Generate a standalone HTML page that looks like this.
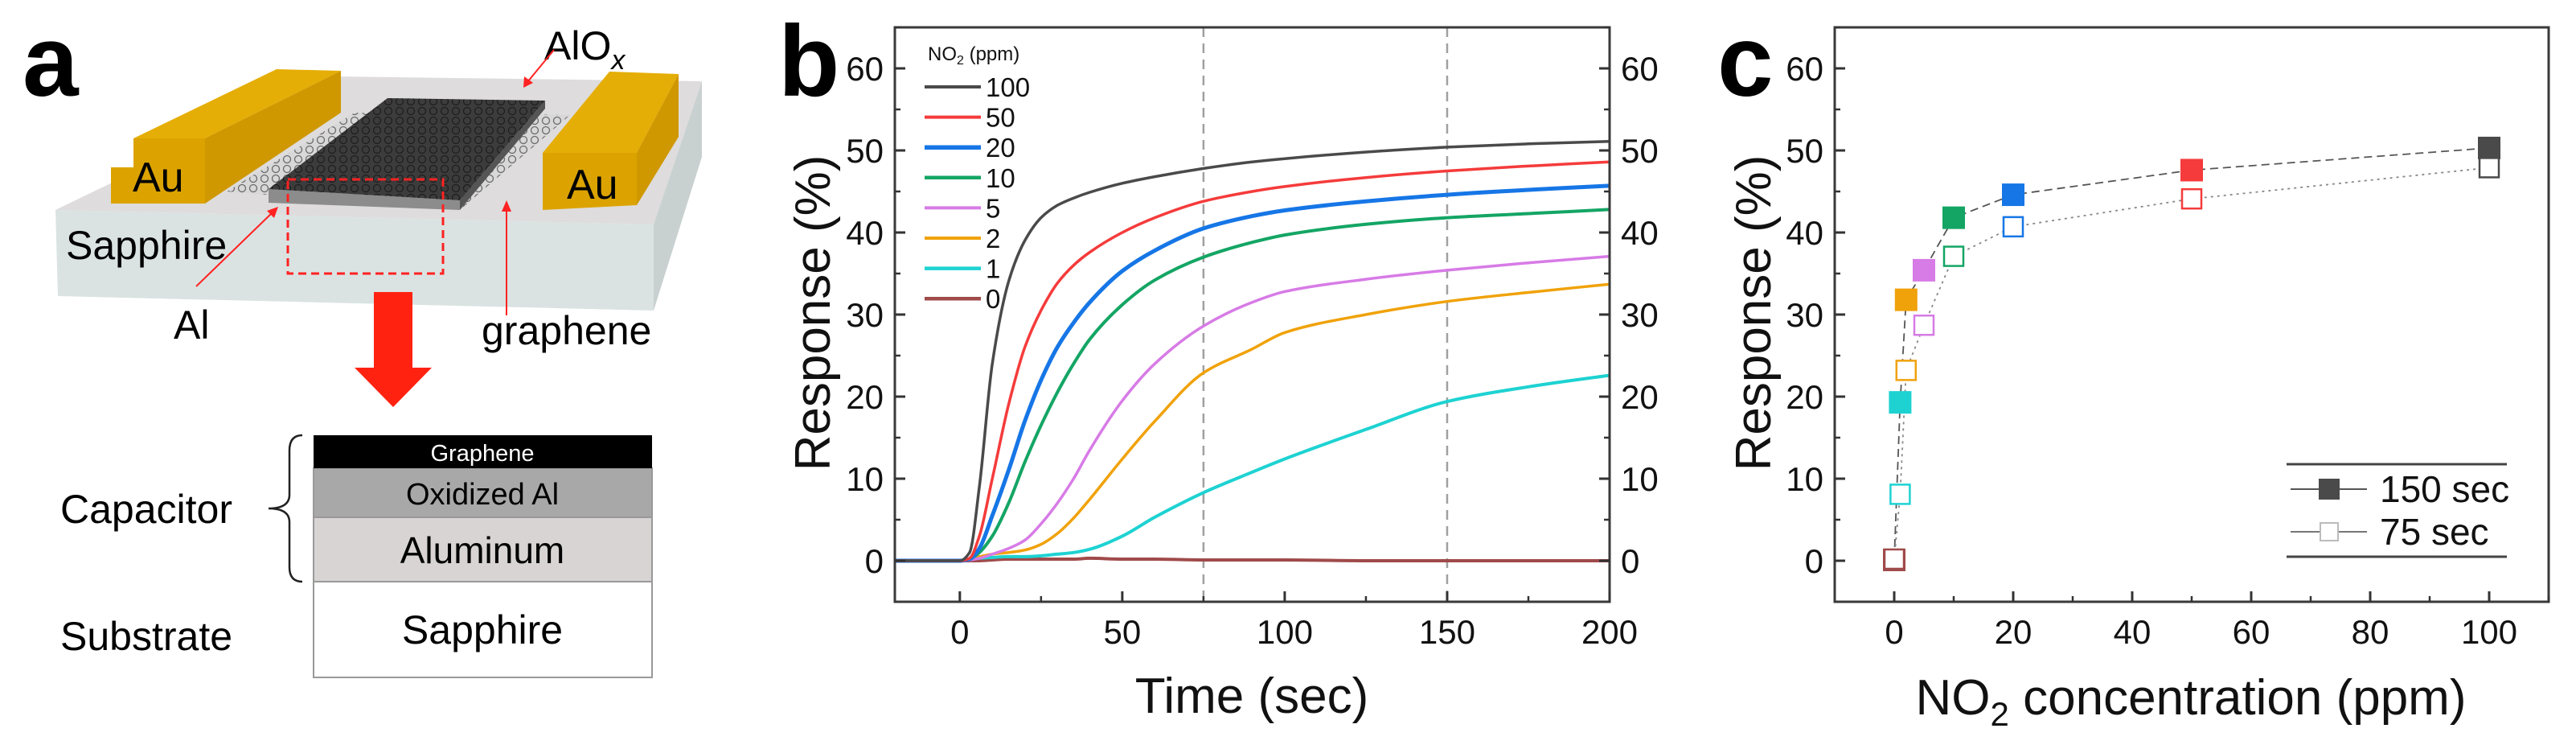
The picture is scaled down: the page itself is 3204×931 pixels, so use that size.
<!DOCTYPE html>
<html><head><meta charset="utf-8">
<style>
html,body{margin:0;padding:0;background:#fff;}
svg{display:block;font-family:"Liberation Sans",Arial,sans-serif;}
</style></head>
<body>
<svg id="fig" width="3204" height="931" viewBox="0 0 3204 931" xmlns="http://www.w3.org/2000/svg">
<defs>
 <pattern id="hexl" width="14" height="12" patternUnits="userSpaceOnUse">
  <rect width="14" height="12" fill="#d8d8d8"/>
  <circle cx="7" cy="6" r="4.5" fill="none" stroke="#6a6a6a" stroke-width="1.3"/>
 </pattern>
 <pattern id="hexd" width="14" height="12" patternUnits="userSpaceOnUse">
  <rect width="14" height="12" fill="#3c3c3c"/>
  <circle cx="7" cy="6" r="4.5" fill="none" stroke="#1e1e1e" stroke-width="1.3"/>
 </pattern>
</defs>

<!-- ================= Panel a ================= -->
<g>
 <text x="28" y="119" font-size="125" font-weight="bold">a</text>
 <polygon points="69,261 813,279 873,101 413,95" fill="#dedcdc"/>
 <polygon points="69,261 813,279 813,386 72,368" fill="#dae3e2"/>
 <polygon points="813,279 873,101 873,195 813,386" fill="#c9d1d0"/>
 <polygon points="282,238 441,140 709,143 572,261" fill="url(#hexl)"/>
 <polygon points="334,235 572,249 572,261 334,252" fill="#8c8c8c"/>
 <polygon points="572,249 678,125 678,135 572,261" fill="#555"/>
 <polygon points="334,235 482,122 678,125 572,249" fill="url(#hexd)"/>
 <polygon points="166,172 344,86 424,88 255,172" fill="#e5ae06"/>
 <polygon points="255,172 424,88 424,140 255,253" fill="#cf9800"/>
 <polygon points="138,208 166,208 166,172 255,172 255,253 138,253" fill="#dca300"/>
 <text x="165" y="238" font-size="52">Au</text>
 <polygon points="758,89 844,92 792,190 675,190" fill="#e5ae06"/>
 <polygon points="792,190 844,92 844,170 792,255" fill="#cf9800"/>
 <polygon points="675,190 792,190 792,255 675,261" fill="#dca300"/>
 <text x="705" y="247" font-size="52">Au</text>
 <text x="82" y="322" font-size="50">Sapphire</text>
 <rect x="358" y="223" width="193" height="117" fill="none" stroke="#f22" stroke-width="3" stroke-dasharray="10,6"/>
 <text x="677" y="74" font-size="50">AlO<tspan font-size="34" font-style="italic" dy="12">x</tspan></text>
 <line x1="689" y1="62" x2="656" y2="102" stroke="#f22" stroke-width="2"/>
 <polygon points="651,109 652,95 663,103" fill="#f22"/>
 <text x="216" y="421" font-size="50">Al</text>
 <line x1="244" y1="356" x2="340" y2="263" stroke="#f22" stroke-width="2"/>
 <polygon points="346,257 341,271 332,262" fill="#f22"/>
 <text x="599" y="428" font-size="50">graphene</text>
 <line x1="630" y1="392" x2="630" y2="258" stroke="#f22" stroke-width="2"/>
 <polygon points="630,249 624,263 636,263" fill="#f22"/>
 <rect x="465" y="363" width="48" height="95" fill="#f21"/>
 <polygon points="441,457 537,457 489,506" fill="#f21"/>
 <rect x="390" y="723" width="421" height="119" fill="#fff" stroke="#999" stroke-width="2"/>
 <rect x="390" y="643" width="421" height="80" fill="#d8d4d4" stroke="#999" stroke-width="2"/>
 <rect x="390" y="582" width="421" height="61" fill="#a8a8a8" stroke="#999" stroke-width="2"/>
 <rect x="390" y="541" width="421" height="41" fill="#000"/>
 <text x="600" y="573" font-size="29" fill="#fff" text-anchor="middle">Graphene</text>
 <text x="600" y="627" font-size="38" text-anchor="middle">Oxidized Al</text>
 <text x="600" y="700" font-size="46" text-anchor="middle">Aluminum</text>
 <text x="600" y="800" font-size="50" text-anchor="middle">Sapphire</text>
 <path d="M376,541 Q360,541 360,560 L360,615 Q360,632 334,632 Q360,632 360,649 L360,705 Q360,723 376,723" fill="none" stroke="#222" stroke-width="2.5"/>
 <text x="75" y="650" font-size="50">Capacitor</text>
 <text x="75" y="808" font-size="50">Substrate</text>
</g>

<g id="pb">
 <text x="968" y="119" font-size="125" font-weight="bold">b</text>
</g>
<g id="pc">
 <text x="2136" y="119" font-size="125" font-weight="bold">c</text>
</g>
</svg>

<script>
// ---------- Panel b data ----------
const timeSec = [-20,0,3,6,10,15,20,25,30,35,40,50,60,75,90,100,125,150,175,200];
const seriesLabels = ["100","50","20","10","5","2","1","0"];
const resp100 = [0,0,1,9,24,34,39,41.8,43.3,44.2,44.9,46,46.8,47.8,48.6,49,49.8,50.4,50.8,51.1];
const resp50  = [0,0,0.3,3,10,19,26,30.5,33.8,36,37.6,40,41.8,43.8,45,45.6,46.7,47.5,48.1,48.6];
const resp20  = [0,0,0.2,1.5,5.5,11,17,22,26,29,31.5,35.3,37.8,40.5,42,42.7,43.8,44.6,45.2,45.7];
const resp10  = [0,0,0.2,1,3,7,12,16.5,20.5,24,27,31.2,34.2,37,38.8,39.7,41,41.8,42.3,42.8];
const resp5   = [0,0,0.1,0.3,0.8,1.5,2.5,4.5,7,10,13.5,19.5,24,28.6,31.5,32.8,34.3,35.4,36.3,37.1];
const resp2   = [0,0,0.2,0.5,0.8,1,1.3,2,3.3,5.2,7.5,12.4,17,22.9,25.8,27.8,30,31.6,32.7,33.7];
const resp1   = [0,0,0.2,0.3,0.4,0.5,0.5,0.6,0.8,1,1.4,3,5.3,8.3,10.8,12.4,16,19.4,21.2,22.6];
const resp0   = [0,0,0,0,0.1,0.2,0.2,0.2,0.2,0.2,0.3,0.2,0.2,0.1,0.1,0.1,0,0,0,0];
const bXTicks = [0,50,100,150,200];
const bYTicks = [0,10,20,30,40,50,60];
const markerTimes = [75,150];

// ---------- Panel c data ----------
const concPpm = [0,1,2,5,10,20,50,100];
const resp150 = [0.1,19.3,31.8,35.4,41.8,44.6,47.6,50.3];
const resp75  = [0.2,8.1,23.2,28.7,37.1,40.7,44.1,47.9];
const cXTicks = [0,20,40,60,80,100];
const cYTicks = [0,10,20,30,40,50,60];

const colors = ["#4a4a4a","#f53b3b","#1676e6","#14a564","#d77be6","#f0a20a","#1ed2d2","#a04a4a"];
const widths = [3.5,3.5,5,4,3.5,3.5,4,4];
const NS = "http://www.w3.org/2000/svg";
function mk(parent, tag, attrs, text){
  const e = document.createElementNS(NS, tag);
  for (const k in attrs) e.setAttribute(k, attrs[k]);
  if (text !== undefined) e.textContent = text;
  parent.appendChild(e);
  return e;
}
// monotone cubic (Fritsch-Carlson) path
function smoothPath(pts){
  const n = pts.length;
  const dx=[], dy=[], m=[];
  for (let i=0;i<n-1;i++){ dx.push(pts[i+1][0]-pts[i][0]); dy.push(pts[i+1][1]-pts[i][1]); m.push(dy[i]/dx[i]); }
  const t=[m[0]];
  for (let i=1;i<n-1;i++){
    if (m[i-1]*m[i]<=0) t.push(0);
    else { const w1=2*dx[i]+dx[i-1], w2=dx[i]+2*dx[i-1]; t.push((w1+w2)/(w1/m[i-1]+w2/m[i])); }
  }
  t.push(m[n-2]);
  let d = "M"+pts[0][0].toFixed(1)+","+pts[0][1].toFixed(1);
  for (let i=0;i<n-1;i++){
    const h=dx[i]/3;
    d += " C"+(pts[i][0]+h).toFixed(1)+","+(pts[i][1]+t[i]*h).toFixed(1)+" "+(pts[i+1][0]-h).toFixed(1)+","+(pts[i+1][1]-t[i+1]*h).toFixed(1)+" "+pts[i+1][0].toFixed(1)+","+pts[i+1][1].toFixed(1);
  }
  return d;
}

// ===== Panel b =====
(function(){
  const g = document.getElementById("pb");
  const L=1113,R=2002,T=34,B=748;
  const xmin=-20,xmax=200,ymin=-5,ymax=65;
  const xs = v => L+(v-xmin)/(xmax-xmin)*(R-L);
  const ys = v => B-(v-ymin)/(ymax-ymin)*(B-T);
  markerTimes.forEach(t=>{
    const l = mk(g,"line",{x1:xs(t),x2:xs(t),y1:T,y2:B,stroke:"#a0a0a0","stroke-width":2.5,"stroke-dasharray":"12,8"});
    
    
  });
  const all = [resp100,resp50,resp20,resp10,resp5,resp2,resp1,resp0];
  for (let s=all.length-1;s>=0;s--){
    const pts = timeSec.map((t,i)=>[xs(t),ys(all[s][i])]);
    const p = mk(g,"path",{d:smoothPath(pts),fill:"none",stroke:colors[s],"stroke-width":widths[s],"stroke-linejoin":"round"});
    
    
  }
  const fr = mk(g,"rect",{x:L,y:T,width:R-L,height:B-T,fill:"none",stroke:"#3a3a3a","stroke-width":3});
  
  
  bXTicks.forEach(v=>{
    const x=xs(v);
    const t = mk(g,"line",{x1:x,x2:x,y1:B,y2:B-13,stroke:"#333","stroke-width":3});
    
    
    const lb = mk(g,"text",{x:x,y:B+52,"font-size":42,"text-anchor":"middle",fill:"#111"},String(v));
    
    
    if (v+25<=xmax){
      const m = mk(g,"line",{x1:xs(v+25),x2:xs(v+25),y1:B,y2:B-7,stroke:"#333","stroke-width":2.5});
      
      
    }
  });
  bYTicks.forEach(v=>{
    const y=ys(v);
    [[L,L+13],[R,R-13]].forEach(a=>{
      const t = mk(g,"line",{x1:a[0],x2:a[1],y1:y,y2:y,stroke:"#333","stroke-width":3});
      
      
    });
    [[L,L+7],[R,R-7]].forEach(a=>{
      const m = mk(g,"line",{x1:a[0],x2:a[1],y1:ys(v+5),y2:ys(v+5),stroke:"#333","stroke-width":2.5});
      
      
    });
    const lb = mk(g,"text",{x:L-14,y:y+15,"font-size":42,"text-anchor":"end",fill:"#111"},String(v));
    
    
    const rb = mk(g,"text",{x:R+14,y:y+15,"font-size":42,"text-anchor":"start",fill:"#111"},String(v));
    
    
  });
  const xt = mk(g,"text",{x:1557,y:886,"font-size":62,"text-anchor":"middle",fill:"#111"},"Time (sec)");
  
  
  const yt = mk(g,"text",{x:0,y:0,"font-size":62,"text-anchor":"middle",fill:"#111",transform:"translate(1032,389) rotate(-90)"},"Response (%)");
  
  
  const lt = mk(g,"text",{x:1154,y:75,"font-size":24,fill:"#111"},"");
  
  
  lt.innerHTML = 'NO<tspan font-size="16" dy="5">2</tspan><tspan dy="-5"> (ppm)</tspan>';
  seriesLabels.forEach((lab,i)=>{
    const y = 108+i*37.6;
    const ln = mk(g,"line",{x1:1150,x2:1220,y1:y,y2:y,stroke:colors[i],"stroke-width":widths[i]+0.5});
    
    
    const tx = mk(g,"text",{x:1226,y:y+12,"font-size":33,fill:"#111"},lab);
    
    
  });
})();

// ===== Panel c =====
(function(){
  const g = document.getElementById("pc");
  const L=2282,R=3170,T=34,B=748;
  const xmin=-10,xmax=110,ymin=-5,ymax=65;
  const xs = v => L+(v-xmin)/(xmax-xmin)*(R-L);
  const ys = v => B-(v-ymin)/(ymax-ymin)*(B-T);
  const l150 = mk(g,"polyline",{points:concPpm.map((c,i)=>xs(c)+","+ys(resp150[i])).join(" "),fill:"none",stroke:"#555","stroke-width":1.8,"stroke-dasharray":"10,6"});
  
  
  const l75 = mk(g,"polyline",{points:concPpm.map((c,i)=>xs(c)+","+ys(resp75[i])).join(" "),fill:"none",stroke:"#888","stroke-width":1.8,"stroke-dasharray":"3,5"});
  
  
  const ci = [7,6,5,4,3,2,1,0];
  concPpm.forEach((c,i)=>{
    const m1 = mk(g,"rect",{x:xs(c)-14,y:ys(resp150[i])-14,width:28,height:28,fill:colors[ci[i]]});
    
    
  });
  concPpm.forEach((c,i)=>{
    const m2 = mk(g,"rect",{x:xs(c)-12,y:ys(resp75[i])-12,width:24,height:24,fill:"#fff",stroke:colors[ci[i]],"stroke-width":2.5});
    
    
  });
  const fr = mk(g,"rect",{x:L,y:T,width:R-L,height:B-T,fill:"none",stroke:"#3a3a3a","stroke-width":3});
  
  
  cXTicks.forEach(v=>{
    const x=xs(v);
    const t = mk(g,"line",{x1:x,x2:x,y1:B,y2:B-13,stroke:"#333","stroke-width":3});
    
    
    const lb = mk(g,"text",{x:x,y:B+52,"font-size":42,"text-anchor":"middle",fill:"#111"},String(v));
    
    
    if (v+10<=xmax){
      const m = mk(g,"line",{x1:xs(v+10),x2:xs(v+10),y1:B,y2:B-7,stroke:"#333","stroke-width":2.5});
      
      
    }
  });
  cYTicks.forEach(v=>{
    const y=ys(v);
    const t = mk(g,"line",{x1:L,x2:L+13,y1:y,y2:y,stroke:"#333","stroke-width":3});
    
    
    const m = mk(g,"line",{x1:L,x2:L+7,y1:ys(v+5),y2:ys(v+5),stroke:"#333","stroke-width":2.5});
    
    
    const lb = mk(g,"text",{x:L-14,y:y+15,"font-size":42,"text-anchor":"end",fill:"#111"},String(v));
    
    
  });
  const xt = mk(g,"text",{x:2725,y:888,"font-size":62,"text-anchor":"middle",fill:"#111"},"");
  
  
  xt.innerHTML = 'NO<tspan font-size="42" dy="14">2</tspan><tspan dy="-14"> concentration (ppm)</tspan>';
  const yt = mk(g,"text",{x:0,y:0,"font-size":62,"text-anchor":"middle",fill:"#111",transform:"translate(2202,389) rotate(-90)"},"Response (%)");
  
  
  [577,692].forEach(y=>{
    const b = mk(g,"line",{x1:2844,x2:3118,y1:y,y2:y,stroke:"#444","stroke-width":3});
    
    
  });
  const e1 = mk(g,"line",{x1:2849,x2:2944,y1:608,y2:608,stroke:"#555","stroke-width":2});
  
  
  const s1 = mk(g,"rect",{x:2884,y:595,width:26,height:26,fill:"#4a4a4a"});
  
  
  const t1 = mk(g,"text",{x:2960,y:624,"font-size":46,fill:"#111"},"150 sec");
  
  
  const e2 = mk(g,"line",{x1:2849,x2:2944,y1:661,y2:661,stroke:"#777","stroke-width":2});
  
  
  const s2 = mk(g,"rect",{x:2886,y:650,width:22,height:22,fill:"#fff",stroke:"#bbb","stroke-width":2});
  
  
  const t2 = mk(g,"text",{x:2960,y:677,"font-size":46,fill:"#111"},"75 sec");
  
  
})();
</script>
</body></html>
